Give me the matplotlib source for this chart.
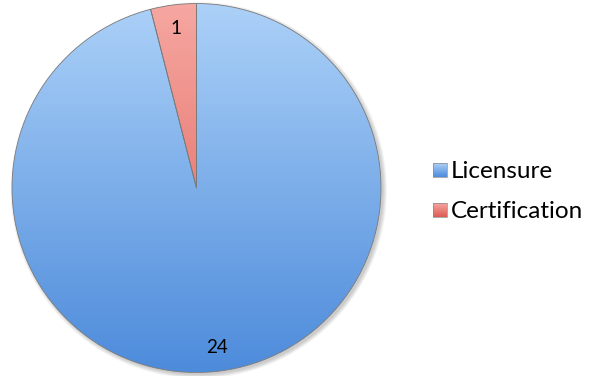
import numpy as np
import matplotlib.pyplot as plt
from matplotlib.colors import LinearSegmentedColormap
from matplotlib.patches import Rectangle

labels = ["Licensure", "Certification"]
counts = [24, 1]
top_colors = ["#acd1f8", "#f6a7a1"]
bottom_colors = ["#4d8bdb", "#de5a54"]

plt.rcParams['font.family'] = ['Lato', 'DejaVu Sans']

fig = plt.figure(figsize=(5.92, 3.76), dpi=100)
W, H = 592, 376
cx, cy, r = 196.5, 188, 184.5
ax = fig.add_axes([(cx - r) / W, (H - cy - r) / H, 2 * r / W, 2 * r / H])
ax.axis('off')

# soft shadow under the pie
for k in range(6):
    sh = plt.Circle((0.012, -0.012), 1.0 + 0.004 * k, color='black',
                    alpha=0.035, zorder=0, lw=0, clip_on=False)
    ax.add_patch(sh)

wedges, texts = ax.pie(counts, startangle=90, counterclock=False,
                       radius=1.0, labels=[str(c) for c in counts],
                       labeldistance=0.87,
                       textprops=dict(fontsize=13.5, color='black'),
                       wedgeprops=dict(edgecolor='#7a7a7a', linewidth=0.6))

grad = np.linspace(0, 1, 256).reshape(-1, 1)
for w, c0, c1 in zip(wedges, top_colors, bottom_colors):
    w.set_facecolor('none')
    cmap = LinearSegmentedColormap.from_list('g', [c1, c0])
    im = ax.imshow(grad, cmap=cmap, extent=(-1, 1, -1, 1), origin='lower',
                   aspect='auto', zorder=1)
    im.set_clip_path(w)
    w.set_zorder(2)
for t in texts:
    t.set_zorder(3)
    t.set_ha('center')
    t.set_va('center')

ax.set_xlim(-1.0, 1.0)
ax.set_ylim(-1.0, 1.0)
ax.set_aspect('equal')

# legend built by hand with gradient swatches
lax = fig.add_axes([0, 0, 1, 1])
lax.set_xlim(0, W)
lax.set_ylim(H, 0)
lax.axis('off')
ys = [170, 210]
for lab, y, c0, c1 in zip(labels, ys, top_colors, bottom_colors):
    x0, s = 433, 14
    cmap = LinearSegmentedColormap.from_list('g', [c0, c1])
    lax.imshow(grad, cmap=cmap, extent=(x0, x0 + s, y + s / 2, y - s / 2),
               aspect='auto', zorder=1)
    rect = Rectangle((x0, y - s / 2), s, s, facecolor='none',
                     edgecolor='#8a8a8a', lw=0.5, zorder=2)
    lax.add_patch(rect)
    lax.text(451, y + 1, lab, fontsize=17.5, va='center', ha='left')

fig.savefig('out.png', dpi=100)
